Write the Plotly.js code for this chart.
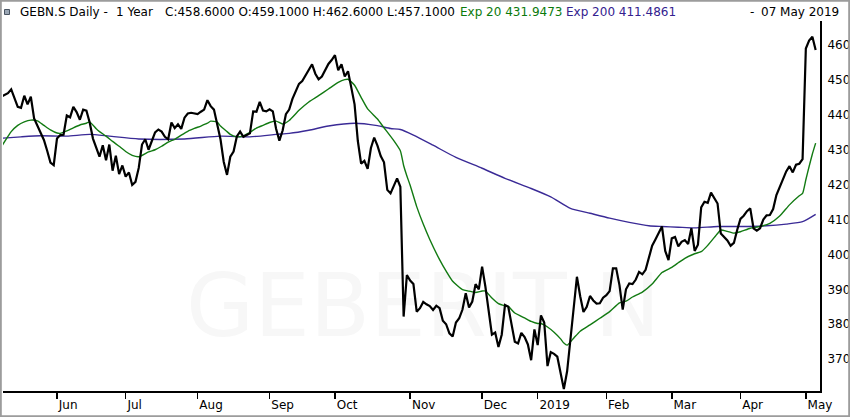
<!DOCTYPE html>
<html>
<head>
<meta charset="utf-8">
<script src="https://cdn.plot.ly/plotly-3.0.1.min.js"></script>
<style>
  html, body { margin: 0; padding: 0; background: #fff; }
  #chart { width: 850px; height: 417px; }
</style>
</head>
<body>
<div id="chart"></div>
<script>
// ---- data (trading-day index 0 = 07 May 2018 ... 249 = 07 May 2019) ----
const closes = [
  445.2,445.7,446.2,447.3,444.5,442.3,442.0,445.5,443.0,445.2,
  439.0,437.0,435.3,432.8,429.7,426.3,425.6,433.2,434.2,434.3,
  439.8,439.3,442.3,440.8,438.6,441.5,441.2,437.8,433.2,430.5,
  428.0,431.3,427.0,431.5,424.0,428.3,423.0,425.5,422.3,423.5,
  419.9,420.8,424.8,431.5,433.0,430.0,432.8,435.0,435.8,435.2,
  433.7,433.0,437.8,436.2,437.3,436.0,439.2,440.4,440.6,440.5,
  440.2,440.9,441.5,444.2,442.5,441.5,437.0,433.0,426.5,422.8,
  428.0,429.5,433.8,435.2,433.7,434.2,434.7,441.0,440.9,443.7,
  441.2,441.0,441.6,441.0,436.0,432.6,435.5,440.2,441.5,444.6,
  446.8,448.9,449.7,451.2,453.0,454.5,451.8,450.2,451.0,452.8,
  454.6,455.7,457.1,452.8,454.5,451.0,452.5,447.8,443.0,432.5,
  426.0,426.8,424.5,430.5,433.5,431.2,428.2,426.4,418.5,417.5,
  419.7,421.8,419.4,382.2,394.1,392.5,391.5,383.6,384.6,386.4,
  385.7,385.2,384.1,385.3,384.6,381.0,380.0,377.4,376.5,380.5,
  381.7,384.2,388.9,384.8,386.5,391.5,390.0,396.5,390.8,384.5,
  377.0,377.6,373.5,377.0,385.5,385.0,380.0,375.0,374.5,377.5,
  376.3,374.2,369.7,378.5,374.0,382.5,380.5,368.0,372.0,371.5,
  370.7,366.0,361.4,366.5,376.0,385.5,393.6,388.0,383.5,385.0,
  388.1,386.8,385.9,386.0,387.6,388.3,389.5,396.0,396.0,391.2,
  384.2,390.0,391.7,391.5,392.8,395.0,394.3,395.6,399.3,402.5,
  404.3,406.3,408.0,401.0,398.4,404.6,405.0,402.3,403.6,404.1,
  403.0,407.5,401.0,402.8,413.5,415.1,414.8,417.7,416.0,414.6,
  406.0,405.1,404.0,402.5,403.3,407.0,410.2,411.1,412.4,413.2,
  407.5,406.8,407.5,410.0,411.2,411.3,413.0,417.0,419.2,421.5,
  423.8,425.3,423.5,425.7,426.0,427.3,459.0,461.3,462.4,458.6
];

const ema20Idx = [0,2,3,5,7,9,11,13,15,17,18,20,22,24,26,27,29,30,32,34,36,38,40,42,45,47,49,51,53,55,57,59,61,63,64,66,67,69,70,72,74,76,78,80,82,84,86,88,91,94,97,100,103,105,106,108,110,112,115,117,120,122,123,124,125,127,129,131,134,136,138,141,143,145,147,148,150,152,154,155,157,160,162,164,165,167,169,171,172,173,175,177,180,183,186,189,191,193,196,199,202,205,207,209,212,214,216,219,220,222,224,226,229,232,235,238,241,244,245,246,247,248,249];
const ema20Val = [430.9,433.8,435.2,437.0,438.0,438.5,438.3,437.0,435.7,434.8,434.7,435.4,436.3,437.1,437.6,438.0,436.0,435.2,433.9,432.4,431.0,429.5,428.4,428.0,429.4,430.0,431.0,432.2,433.0,434.2,435.3,436.1,436.8,437.6,438.2,437.9,436.8,435.2,434.4,433.7,434.0,435.0,436.2,437.0,437.8,438.2,437.4,438.4,441.3,443.7,445.5,447.4,449.3,450.1,450.2,448.5,445.0,441.7,438.8,436.3,432.6,429.7,425.5,422.5,419.8,413.7,408.7,404.3,398.5,395.2,392.3,389.9,389.5,389.1,389.5,389.5,387.5,385.9,385.3,385.1,383.2,381.8,380.8,380.2,380.2,379.2,377.7,375.8,374.6,374.0,376.0,378.0,379.8,381.7,383.6,386.1,386.6,387.8,389.2,391.5,394.8,396.3,397.6,398.9,400.2,400.8,402.6,406.0,407.0,406.6,406.1,406.5,407.5,408.0,408.9,411.0,414.2,416.8,417.5,421.4,425.2,428.8,431.9];

const ema200Idx = [0,6,12,20,27,33,42,56,67,76,84,88,94,100,108,115,119,122,126,132,139,147,154,162,168,174,180,186,192,198,202,207,212,219,226,234,240,245,249];
const ema200Val = [433.3,433.7,434.0,433.9,434.4,433.9,433.1,433.1,433.9,433.7,434.4,434.7,435.6,436.8,437.6,436.9,436.1,435.8,434.2,431.3,427.8,424.7,421.8,418.9,416.5,413.2,411.8,410.4,409.2,408.2,408.0,407.8,407.6,408.0,408.0,408.2,408.7,409.4,411.5];

const monthIdx = [17,38,60,82,102,125,147,164,185,205,226,246];
const monthLabels = ['Jun','Jul','Aug','Sep','Oct','Nov','Dec','2019','Feb','Mar','Apr','May'];
const yTicks = [370,380,390,400,410,420,430,440,450,460];

const headerMain = 'C:458.6000 O:459.1000 H:462.6000 L:457.1000';
const headerExp20 = 'Exp 20 431.9473';
const headerExp200 = 'Exp 200 411.4861';

// ---- layout helpers (pixel -> paper) ----
const L = 3, R = 30, T = 21, B = 26, W = 850, H = 417;
const PW = W - L - R, PH = H - T - B;
const px = x => (x - L) / PW;
const py = y => (H - B - y) / PH;

const idx = closes.map((_, i) => i);
const FONT = 'DejaVu Sans';

const traces = [
  { x: [129], y: [383], mode: 'text', text: ['GEBERIT N'], hoverinfo: 'skip',
    textfont: { family: FONT, size: 88, color: '#f7f7f7' }, showlegend: false },
  { x: ema200Idx, y: ema200Val, mode: 'lines', line: { color: '#3a2a96', width: 1.4, shape: 'spline', smoothing: 0.6 }, showlegend: false },
  { x: ema20Idx, y: ema20Val, mode: 'lines', line: { color: '#127a12', width: 1.4, shape: 'spline', smoothing: 0.5 }, showlegend: false },
  { x: idx, y: closes, mode: 'lines', line: { color: '#000000', width: 2.2 }, showlegend: false }
];

const hdrY = py(12);
const layout = {
  width: W, height: H,
  margin: { l: L, r: R, t: T, b: B, pad: 0 },
  paper_bgcolor: '#ffffff', plot_bgcolor: '#ffffff',
  showlegend: false,
  xaxis: {
    range: [0.49, 250.33], tickmode: 'array', tickvals: monthIdx, ticktext: monthLabels,
    ticks: 'outside', ticklen: 6, tickwidth: 1.5, tickcolor: '#000',
    showline: true, linecolor: '#000', linewidth: 2,
    showgrid: false, zeroline: false,
    ticklabelposition: 'outside right', ticklabelstandoff: 2,
    tickfont: { family: FONT, size: 12, color: '#000' }, fixedrange: true
  },
  yaxis: {
    side: 'right', range: [360.86, 466.9], tickmode: 'array', tickvals: yTicks,
    ticks: '', showline: true, linecolor: '#000', linewidth: 2,
    showgrid: false, zeroline: false, ticklabelstandoff: 3,
    tickfont: { family: FONT, size: 12, color: '#000' }, fixedrange: true
  },
  shapes: [
    { type: 'rect', xref: 'paper', yref: 'paper', x0: px(0.8), x1: px(849.2), y0: py(416.2), y1: py(0.8),
      line: { color: '#9c9c9c', width: 2 }, fillcolor: 'rgba(0,0,0,0)' },
    { type: 'rect', xref: 'paper', yref: 'paper', x0: px(4.5), x1: px(9.5), y0: py(14.5), y1: py(9.5),
      line: { color: '#4a5563', width: 1 }, fillcolor: '#9aa6b4' }
  ],
  annotations: [
    { xref: 'paper', yref: 'paper', x: px(18), y: hdrY, xanchor: 'left', yanchor: 'middle', showarrow: false,
      text: 'GEBN.S Daily -', font: { family: FONT, size: 12, color: '#000' } },
    { xref: 'paper', yref: 'paper', x: px(114), y: hdrY, xanchor: 'left', yanchor: 'middle', showarrow: false,
      text: '1 Year', font: { family: FONT, size: 12, color: '#000' } },
    { xref: 'paper', yref: 'paper', x: px(163), y: hdrY, xanchor: 'left', yanchor: 'middle', showarrow: false,
      text: headerMain, font: { family: FONT, size: 12, color: '#000' } },
    { xref: 'paper', yref: 'paper', x: px(458), y: hdrY, xanchor: 'left', yanchor: 'middle', showarrow: false,
      text: headerExp20, font: { family: FONT, size: 12, color: '#0b7a0b' } },
    { xref: 'paper', yref: 'paper', x: px(564), y: hdrY, xanchor: 'left', yanchor: 'middle', showarrow: false,
      text: headerExp200, font: { family: FONT, size: 12, color: '#33218f' } },
    { xref: 'paper', yref: 'paper', x: px(752), y: hdrY, xanchor: 'center', yanchor: 'middle', showarrow: false,
      text: '-', font: { family: FONT, size: 12, color: '#000' } },
    { xref: 'paper', yref: 'paper', x: px(841), y: hdrY, xanchor: 'right', yanchor: 'middle', showarrow: false,
      text: '07 May 2019', font: { family: FONT, size: 12, color: '#000' } }
  ]
};

Plotly.newPlot('chart', traces, layout, { staticPlot: true, displayModeBar: false });
</script>
</body>
</html>
